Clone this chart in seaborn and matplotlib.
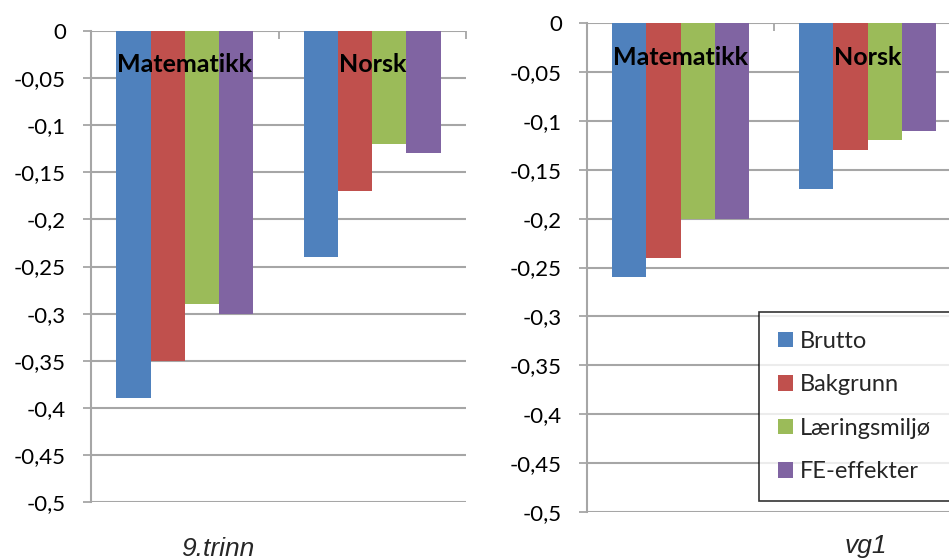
import matplotlib
matplotlib.use("Agg")
import matplotlib.pyplot as plt
import pandas as pd
import seaborn as sns

# Subjects (categories) and effect components (series)
fag = ["Matematikk", "Norsk"]
serier = ["Brutto", "Bakgrunn", "Læringsmiljø", "FE-effekter"]

# 9. trinn
brutto_9 = [-0.39, -0.24]
bakgrunn_9 = [-0.35, -0.17]
laeringsmiljo_9 = [-0.29, -0.12]
fe_effekter_9 = [-0.30, -0.13]

# vg1
brutto_vg1 = [-0.26, -0.17]
bakgrunn_vg1 = [-0.24, -0.13]
laeringsmiljo_vg1 = [-0.20, -0.12]
fe_effekter_vg1 = [-0.20, -0.11]

paneltitler = ["9.trinn", "vg1"]

ytick_verdier = [0, -0.05, -0.1, -0.15, -0.2, -0.25, -0.3, -0.35, -0.4, -0.45, -0.5]
ytick_tekster = ["0", "-0,05", "-0,1", "-0,15", "-0,2", "-0,25", "-0,3", "-0,35",
                 "-0,4", "-0,45", "-0,5"]

farger = ["#4F81BD", "#C0504D", "#9BBB59", "#8064A2"]
GRID = "#A6A6A6"


def lang_tabell(kolonner):
    rader = []
    for serie, verdier in zip(serier, kolonner):
        for f, v in zip(fag, verdier):
            rader.append({"fag": f, "serie": serie, "verdi": v})
    return pd.DataFrame(rader)


df_9 = lang_tabell([brutto_9, bakgrunn_9, laeringsmiljo_9, fe_effekter_9])
df_vg1 = lang_tabell([brutto_vg1, bakgrunn_vg1, laeringsmiljo_vg1, fe_effekter_vg1])

sns.set_style("white")
plt.rcParams["font.family"] = ["Lato", "DejaVu Sans"]

W, H = 949, 560
fig = plt.figure(figsize=(W / 100, H / 100), dpi=100)
fig.patch.set_facecolor("white")


def px_axes(x0, x1, ytop, ybot):
    return fig.add_axes([x0 / W, 1 - ybot / H, (x1 - x0) / W, (ybot - ytop) / H])


ax1 = px_axes(91, 466, 31, 502)
ax2 = px_axes(587, 961, 23, 512)

for ax, df in [(ax1, df_9), (ax2, df_vg1)]:
    sns.barplot(data=df, x="fag", y="verdi", hue="serie", hue_order=serier,
                order=fag, palette=farger, saturation=1, width=0.73,
                linewidth=0, ax=ax)
    ax.set_xlim(-0.5, 1.5)
    ax.set_ylim(-0.5, 0)
    ax.set_axisbelow(True)
    ax.set_xlabel("")
    ax.set_ylabel("")

    ax.set_yticks(ytick_verdier)
    ax.set_yticklabels(ytick_tekster)
    ax.tick_params(axis="y", direction="out", length=6, width=1.3, color=GRID,
                   labelsize=16, labelcolor="black", pad=12, left=True)
    ax.yaxis.grid(True, color=GRID, linewidth=1.5)
    ax.xaxis.grid(False)

    # category separators on the zero line
    ax.xaxis.tick_top()
    ax.set_xticks([0.5, 1.5])
    ax.set_xticklabels(["", ""])
    ax.tick_params(axis="x", direction="in", length=6, width=1.3, color=GRID,
                   top=True, bottom=False)

    for s in ["top", "right", "bottom"]:
        ax.spines[s].set_visible(False)
    ax.spines["left"].set_color(GRID)
    ax.spines["left"].set_linewidth(1.5)

    for i, navn in enumerate(fag):
        ax.text(i, -0.043, navn, ha="center", va="baseline", fontsize=18,
                fontweight="bold", color="black")

    if ax.get_legend() is not None:
        ax.get_legend().remove()

handles, labels = ax2.get_legend_handles_labels()
leg = fig.legend(handles, labels, loc="upper left",
                 bbox_to_anchor=(759 / W, 1 - 312 / H, 220 / W, 0.0),
                 mode="expand", frameon=True, fancybox=False, fontsize=17,
                 handlelength=0.65, handleheight=0.65, handletextpad=0.3,
                 labelspacing=0.95, borderpad=0.8, borderaxespad=0)
leg.get_frame().set_edgecolor("black")
leg.get_frame().set_linewidth(1.2)

fig.text(218 / W, 1 - 556 / H, paneltitler[0], ha="center", va="baseline",
         fontsize=19, style="italic", family=["Liberation Sans", "DejaVu Sans"])
fig.text(866 / W, 1 - 553 / H, paneltitler[1], ha="center", va="baseline",
         fontsize=19, style="italic", family=["Liberation Sans", "DejaVu Sans"])

fig.savefig("out.png", dpi=100, facecolor="white")
